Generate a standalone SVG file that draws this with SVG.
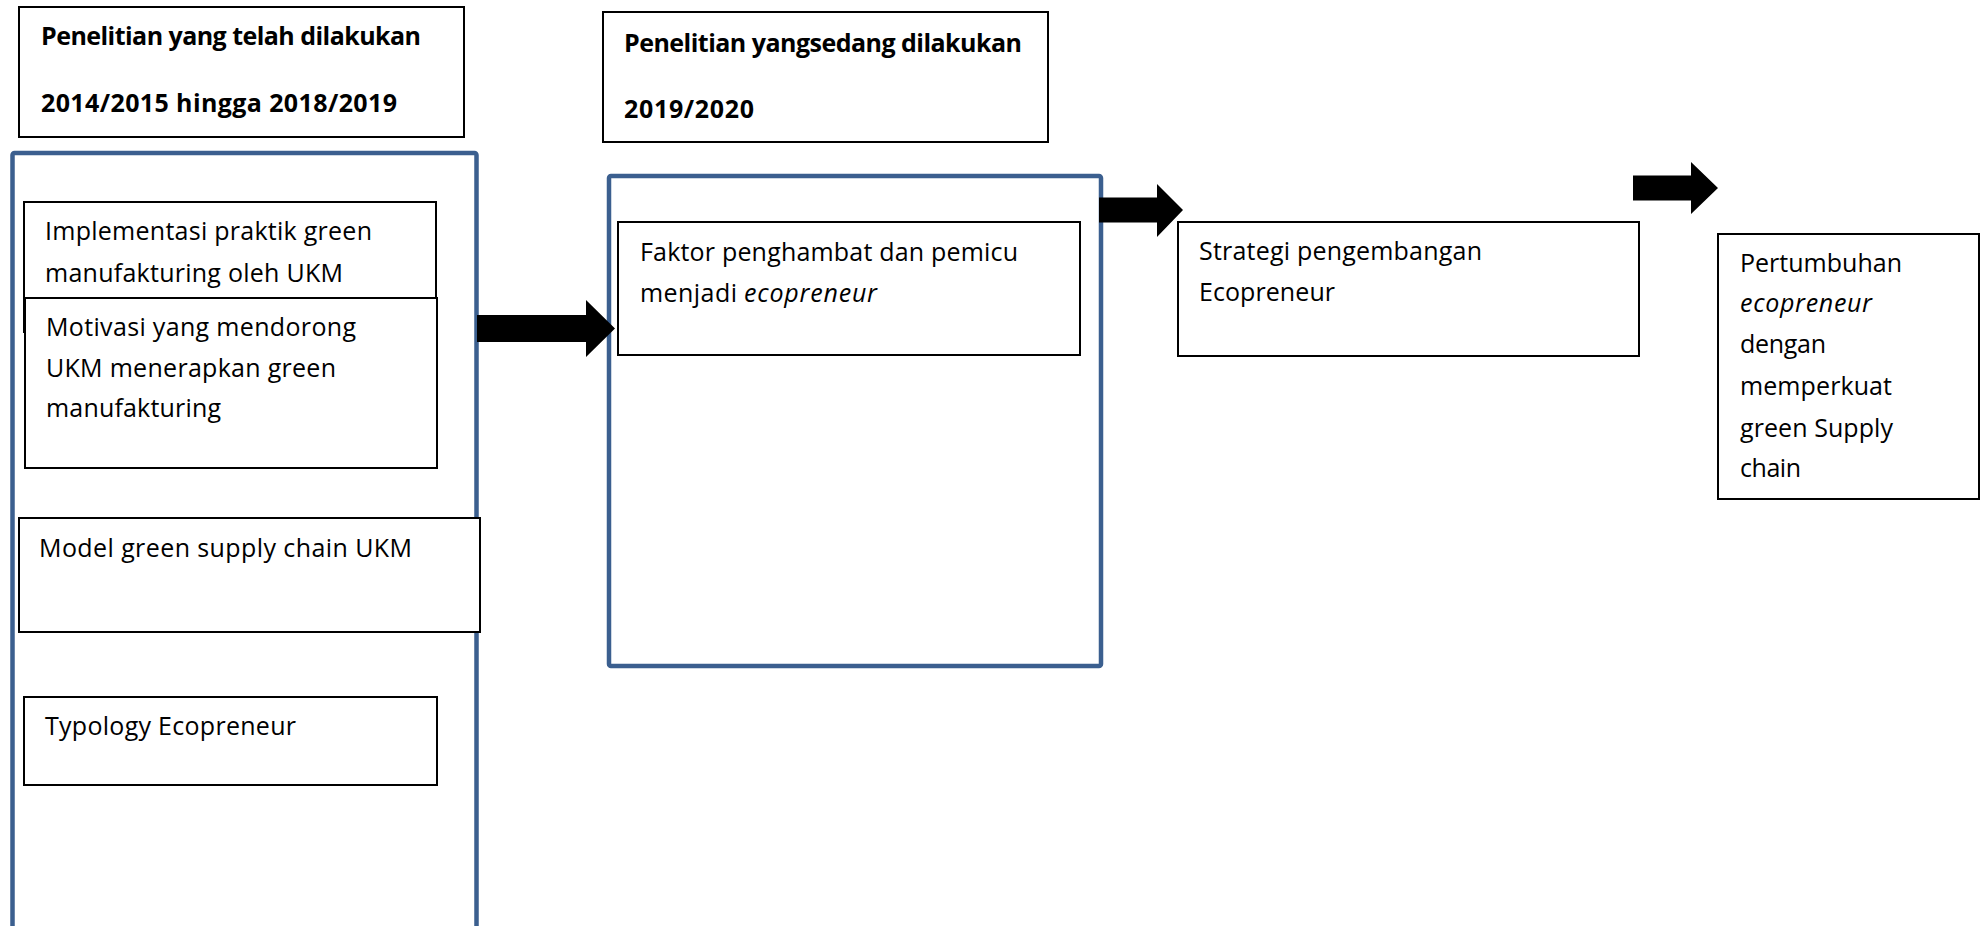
<svg xmlns="http://www.w3.org/2000/svg" width="1987" height="926" viewBox="0 0 1987 926">
<style>
.bg{fill:#ffffff}
.box{fill:#ffffff;stroke:#000000;stroke-width:2}
.blue{fill:#ffffff;stroke:#3B5F8F;stroke-width:4.5}
.t{font-family:"Open Sans","Noto Sans","Liberation Sans",sans-serif;font-size:25px;fill:#000000}
.b{font-weight:bold}
.i{font-style:italic}
.arrow{fill:#000000}
</style>
<rect class="bg" x="0" y="0" width="1987" height="926"/>
<g id="title-past">
<rect class="box" x="19" y="7" width="445" height="130"/>
<text class="t b" x="41" y="45" textLength="380">Penelitian yang telah dilakukan</text>
<text class="t b" x="41" y="112" textLength="356">2014/2015 hingga 2018/2019</text>
</g>
<g id="title-current">
<rect class="box" x="603" y="12" width="445" height="130"/>
<text class="t b" x="624" y="52" textLength="398">Penelitian yangsedang dilakukan</text>
<text class="t b" x="624" y="118" textLength="130">2019/2020</text>
</g>
<g id="group-past">
<rect class="blue" x="12.5" y="153" width="464" height="800" rx="2"/>
</g>
<g id="implementasi">
<rect class="box" x="24" y="202" width="412" height="130"/>
<text class="t" x="45" y="240" textLength="327">Implementasi praktik green</text>
<text class="t" x="45" y="282" textLength="298">manufakturing oleh UKM</text>
</g>
<g id="motivasi">
<rect class="box" x="25" y="298" width="412" height="170"/>
<text class="t" x="46" y="336" textLength="310">Motivasi yang mendorong</text>
<text class="t" x="46" y="377" textLength="290">UKM menerapkan green</text>
<text class="t" x="46" y="417" textLength="175">manufakturing</text>
</g>
<g id="model">
<rect class="box" x="19" y="518" width="461" height="114"/>
<text class="t" x="39" y="557" textLength="373">Model green supply chain UKM</text>
</g>
<g id="typology">
<rect class="box" x="24" y="697" width="413" height="88"/>
<text class="t" x="45" y="735" textLength="251">Typology Ecopreneur</text>
</g>
<g id="group-current">
<rect class="blue" x="609" y="176" width="492" height="490" rx="2"/>
</g>
<g id="faktor">
<rect class="box" x="618" y="222" width="462" height="133"/>
<text class="t" x="640" y="261" textLength="378">Faktor penghambat dan pemicu</text>
<text class="t" x="640" y="302" textLength="97">menjadi</text>
<text class="t i" x="744" y="302" textLength="133">ecopreneur</text>
</g>
<g id="strategi">
<rect class="box" x="1178" y="222" width="461" height="134"/>
<text class="t" x="1199" y="260" textLength="283">Strategi pengembangan</text>
<text class="t" x="1199" y="301" textLength="136">Ecopreneur</text>
</g>
<g id="pertumbuhan">
<rect class="box" x="1718" y="234" width="261" height="265"/>
<text class="t" x="1740" y="272" textLength="162">Pertumbuhan</text>
<text class="t i" x="1740" y="312" textLength="132">ecopreneur</text>
<text class="t" x="1740" y="353" textLength="86">dengan</text>
<text class="t" x="1740" y="395" textLength="152">memperkuat</text>
<text class="t" x="1740" y="437" textLength="153">green Supply</text>
<text class="t" x="1740" y="477" textLength="61">chain</text>
</g>
<g id="connectors">
<polygon class="arrow" points="477,315 586,315 586,300 615,328.5 586,357 586,342 477,342"/>
<polygon class="arrow" points="1099,197.5 1157,197.5 1157,184 1183,210 1157,237 1157,222.5 1099,222.5"/>
<polygon class="arrow" points="1633,175.5 1691,175.5 1691,162 1718,188 1691,214 1691,200.5 1633,200.5"/>
</g>
</svg>
